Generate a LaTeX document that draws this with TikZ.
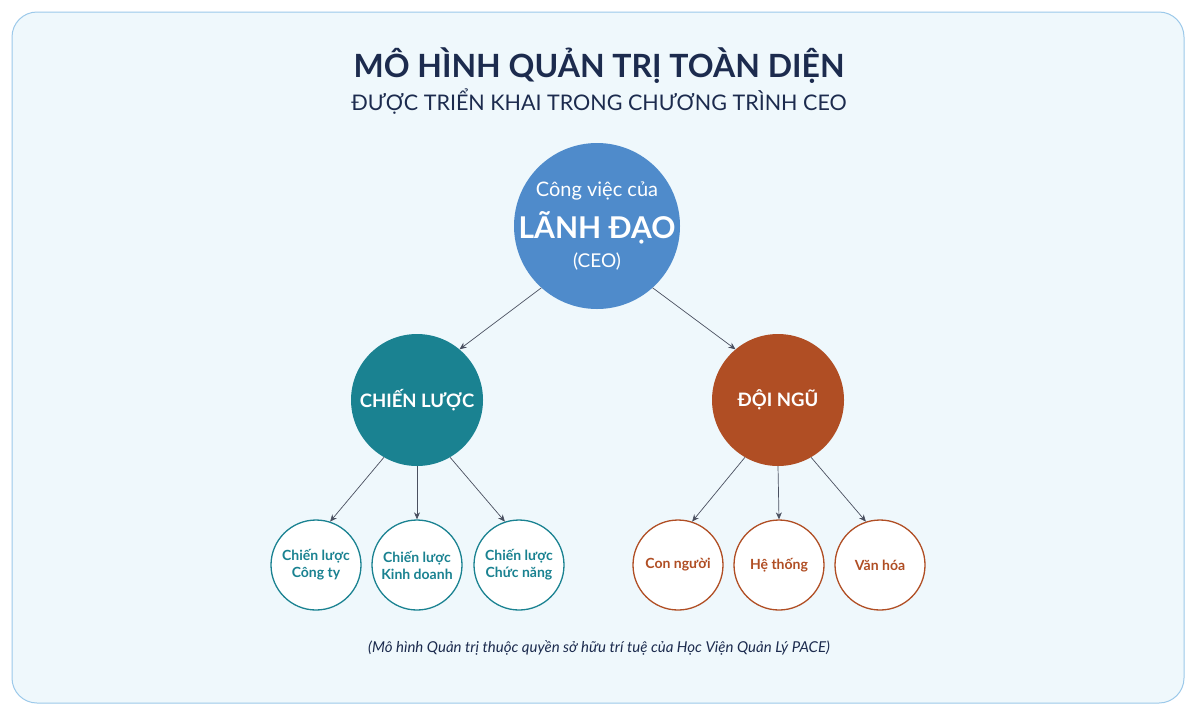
\documentclass[tikz,border=0pt]{standalone}
\usepackage{fontspec}
\usetikzlibrary{arrows.meta}
\setmainfont{Lato}
\definecolor{bgc}{HTML}{EFF8FC}
\definecolor{bord}{HTML}{9CC9EA}
\definecolor{navy}{HTML}{1C2B4E}
\definecolor{ceo}{HTML}{4F8BCB}
\definecolor{teal}{HTML}{1A8291}
\definecolor{rust}{HTML}{B04E24}
\definecolor{arr}{HTML}{4A5060}
\begin{document}
\begin{tikzpicture}[x=1pt,y=-1pt,
  big/.style={circle,minimum size=132pt,inner sep=0pt,text=white,align=center},
  leaf/.style={circle,minimum size=90pt,inner sep=0pt,fill=white,line width=1.3pt,align=center,font=\bfseries\fontsize{14}{17}\selectfont},
  conn/.style={draw=arr,line width=0.7pt,-{Stealth[length=7pt,width=6pt]}}]
\useasboundingbox (0,0) rectangle (1198,721);
\fill[white] (0,0) rectangle (1198,721);
\draw[bord,fill=bgc,line width=1pt,rounded corners=25pt] (12,12) rectangle (1184,703);
\node[text=navy,font=\bfseries\fontsize{32}{36}\selectfont] (t1) at (599,66) {MÔ HÌNH QUẢN TRỊ TOÀN DIỆN};
\node[text=navy,font=\fontsize{21.5}{26}\selectfont] (t2) at (599,102) {ĐƯỢC TRIỂN KHAI TRONG CHƯƠNG TRÌNH CEO};
\node[big,fill=ceo,minimum size=166pt] (c) at (597,226) {};
\node[text=white,font=\fontsize{20}{24}\selectfont] (c1) at (597,191) {Công việc của};
\node[text=white,font=\bfseries\fontsize{30}{36}\selectfont] (c2) at (597,228) {LÃNH ĐẠO};
\node[text=white,font=\fontsize{19}{24}\selectfont] (c3) at (597,262) {(CEO)};
\node[big,fill=teal,font=\bfseries\fontsize{18.5}{24}\selectfont] (s) at (417,400) {CHIẾN LƯỢC};
\node[big,fill=rust,font=\bfseries\fontsize{18.5}{24}\selectfont] (d) at (778,400) {ĐỘI NGŨ};
\node[leaf,draw=teal,text=teal] (s1) at (316,565) {Chiến lược\\Công ty};
\node[leaf,draw=teal,text=teal] (s2) at (417,565) {Chiến lược\\Kinh doanh};
\node[leaf,draw=teal,text=teal] (s3) at (519,565) {Chiến lược\\Chức năng};
\node[leaf,draw=rust,text=rust] (d1) at (678,565) {Con người};
\node[leaf,draw=rust,text=rust] (d2) at (779,565) {Hệ thống};
\node[leaf,draw=rust,text=rust] (d3) at (880,565) {Văn hóa};
\draw[conn] (c.228) -- (s.50);
\draw[conn] (c.312) -- (d.130);
\draw[conn] (s.240) -- (s1.72);
\draw[conn] (s.south) -- (s2.north);
\draw[conn] (s.300) -- (s3.108);
\draw[conn] (d.240) -- (d1.72);
\draw[conn] (d.south) -- (d2.north);
\draw[conn] (d.300) -- (d3.108);
\node[text=navy,font=\itshape\fontsize{15}{18}\selectfont] (f) at (599,648) {(Mô hình Quản trị thuộc quyền sở hữu trí tuệ của Học Viện Quản Lý PACE)};
\end{tikzpicture}
\end{document}
